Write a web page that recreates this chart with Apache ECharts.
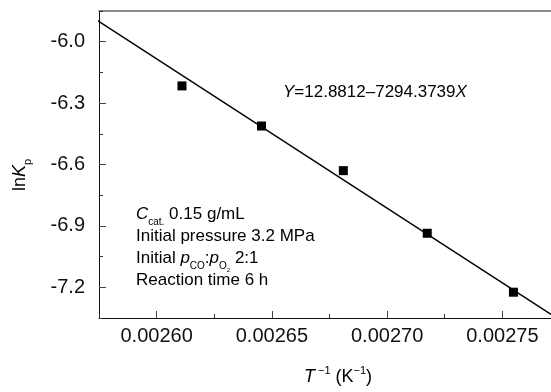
<!DOCTYPE html>
<html>
<head>
<meta charset="utf-8">
<script src="https://cdn.jsdelivr.net/npm/echarts@6/dist/echarts.min.js"></script>
<style>
html,body{margin:0;padding:0;background:#fff;}
#chart{width:551px;height:392px;}
</style>
</head>
<body>
<div id="chart"></div>
<script>
// Data
const invT = [0.0026110, 0.0026455, 0.0026810, 0.0027174, 0.0027548];
const lnKp = [-6.216, -6.412, -6.630, -6.936, -7.224];
// Fitted line Y = 12.8812 - 7294.3739 X, endpoints
const fitX = [0.00257, 0.00278];
const fitY = [-5.865, -7.397];
const xMajorTicks = [0.00260, 0.00265, 0.00270, 0.00275];
const yMajorTicks = [-6.0, -6.3, -6.6, -6.9, -7.2];
const xRange = [0.002575, 0.002775];
const yRange = [-7.35, -5.85];

const FONT = "'Liberation Sans', Arial, sans-serif";
const chart = echarts.init(document.getElementById('chart'), null, {renderer: 'canvas'});

const base = {fontFamily: FONT, color: '#111'};

const option = {
  backgroundColor: '#fff',
  animation: false,
  grid: {left: 99, top: 11, right: -9, bottom: 74, outerBoundsMode: 'none', containLabel: false},
  xAxis: [
    {
      type: 'value', position: 'bottom', min: xRange[0], max: xRange[1], interval: 0.000025,
      axisLine: {show: true, onZero: false, lineStyle: {color: '#111', width: 1}},
      axisTick: {show: true, inside: true, length: 4, lineStyle: {color: '#333'}},
      axisLabel: {show: false},
      splitLine: {show: false}
    },
    {
      type: 'value', position: 'bottom', min: xRange[0], max: xRange[1],
      axisLine: {show: false, onZero: false},
      axisTick: {show: true, inside: true, length: 7, customValues: xMajorTicks, lineStyle: {color: '#444'}},
      axisLabel: {show: true, customValues: xMajorTicks, margin: 8, fontSize: 20, fontFamily: FONT, color: '#111',
        formatter: v => v.toFixed(5)},
      splitLine: {show: false}
    },
    {
      type: 'value', position: 'top', min: xRange[0], max: xRange[1],
      axisLine: {show: true, onZero: false, lineStyle: {color: '#666', width: 1.5}},
      axisTick: {show: false}, axisLabel: {show: false}, splitLine: {show: false}
    }
  ],
  yAxis: [
    {
      type: 'value', position: 'left', min: yRange[0], max: yRange[1], interval: 0.15,
      axisLine: {show: true, onZero: false, lineStyle: {color: '#111', width: 1}},
      axisTick: {show: true, inside: true, length: 4, lineStyle: {color: '#333'}},
      axisLabel: {show: false},
      splitLine: {show: false}
    },
    {
      type: 'value', position: 'left', min: yRange[0], max: yRange[1],
      axisLine: {show: false, onZero: false},
      axisTick: {show: true, inside: true, length: 7, customValues: yMajorTicks, lineStyle: {color: '#444'}},
      axisLabel: {show: true, customValues: yMajorTicks, margin: 14, fontSize: 20, fontFamily: FONT, color: '#111',
        formatter: v => v.toFixed(1)},
      splitLine: {show: false}
    }
  ],
  series: [
    {
      type: 'line', xAxisIndex: 0, yAxisIndex: 0,
      data: fitX.map((x, i) => [x, fitY[i]]),
      showSymbol: false, symbol: 'none', clip: true,
      lineStyle: {color: '#000', width: 1.5}
    },
    {
      type: 'scatter', xAxisIndex: 0, yAxisIndex: 0,
      data: invT.map((x, i) => [x, lnKp[i]]),
      symbol: 'rect', symbolSize: 9,
      itemStyle: {color: '#000', opacity: 1}
    }
  ],
  graphic: [
    {
      type: 'text', x: 283, y: 92,
      style: Object.assign({}, base, {
        text: '{i|Y}{n|=12.8812–7294.3739}{i|X}',
        verticalAlign: 'middle',
        rich: {
          n: {fontSize: 17, fontFamily: FONT, color: '#111'},
          i: {fontSize: 17, fontFamily: FONT, fontStyle: 'italic', color: '#111'}
        }
      })
    },
    {
      type: 'text', x: 136, y: 214,
      style: Object.assign({}, base, {
        text: '{i|C}{s|cat.}{n| 0.15 g/mL}',
        verticalAlign: 'middle',
        rich: {
          n: {fontSize: 17, fontFamily: FONT, color: '#111', lineHeight: 20},
          i: {fontSize: 17, fontFamily: FONT, fontStyle: 'italic', color: '#111', lineHeight: 20},
          s: {fontSize: 10, fontFamily: FONT, color: '#111', verticalAlign: 'bottom', lineHeight: 10, padding: [0, 0, -3, 0]}
        }
      })
    },
    {
      type: 'text', x: 136, y: 236,
      style: Object.assign({}, base, {
        text: 'Initial pressure 3.2 MPa', fontSize: 17, verticalAlign: 'middle'
      })
    },
    {
      type: 'text', x: 136, y: 258,
      style: Object.assign({}, base, {
        text: '{n|Initial }{i|p}{s|CO}{n|:}{i|p}{s|O}{ss|2}{n| 2:1}',
        verticalAlign: 'middle',
        rich: {
          n: {fontSize: 17, fontFamily: FONT, color: '#111', lineHeight: 20},
          i: {fontSize: 17, fontFamily: FONT, fontStyle: 'italic', color: '#111', lineHeight: 20},
          s: {fontSize: 10, fontFamily: FONT, color: '#111', verticalAlign: 'bottom', lineHeight: 10, padding: [0, 0, -3, 0]},
          ss: {fontSize: 6, fontFamily: FONT, color: '#111', verticalAlign: 'bottom', lineHeight: 6, padding: [0, 0, -5, 0]}
        }
      })
    },
    {
      type: 'text', x: 136, y: 280,
      style: Object.assign({}, base, {
        text: 'Reaction time 6 h', fontSize: 17, verticalAlign: 'middle'
      })
    },
    {
      type: 'text', x: 338, y: 377,
      style: Object.assign({}, base, {
        text: '{i|T}{sup| −1}{n| (K}{sup|−1}{n|)}',
        align: 'center', verticalAlign: 'middle',
        rich: {
          n: {fontSize: 18, fontFamily: FONT, color: '#111', lineHeight: 20},
          i: {fontSize: 18, fontFamily: FONT, fontStyle: 'italic', color: '#111', lineHeight: 20},
          sup: {fontSize: 11, fontFamily: FONT, color: '#111', verticalAlign: 'top', lineHeight: 11, padding: [-2, 0, 0, 0]}
        }
      })
    },
    {
      type: 'text', x: 20, y: 175, rotation: Math.PI / 2,
      style: Object.assign({}, base, {
        text: '{n|ln}{i|K}{s|p}',
        align: 'center', verticalAlign: 'middle',
        rich: {
          n: {fontSize: 18, fontFamily: FONT, color: '#111', lineHeight: 20},
          i: {fontSize: 18, fontFamily: FONT, fontStyle: 'italic', color: '#111', lineHeight: 20},
          s: {fontSize: 11, fontFamily: FONT, color: '#111', verticalAlign: 'bottom', lineHeight: 11, padding: [0, 0, -3, 0]}
        }
      })
    }
  ]
};
chart.setOption(option);
</script>
</body>
</html>
